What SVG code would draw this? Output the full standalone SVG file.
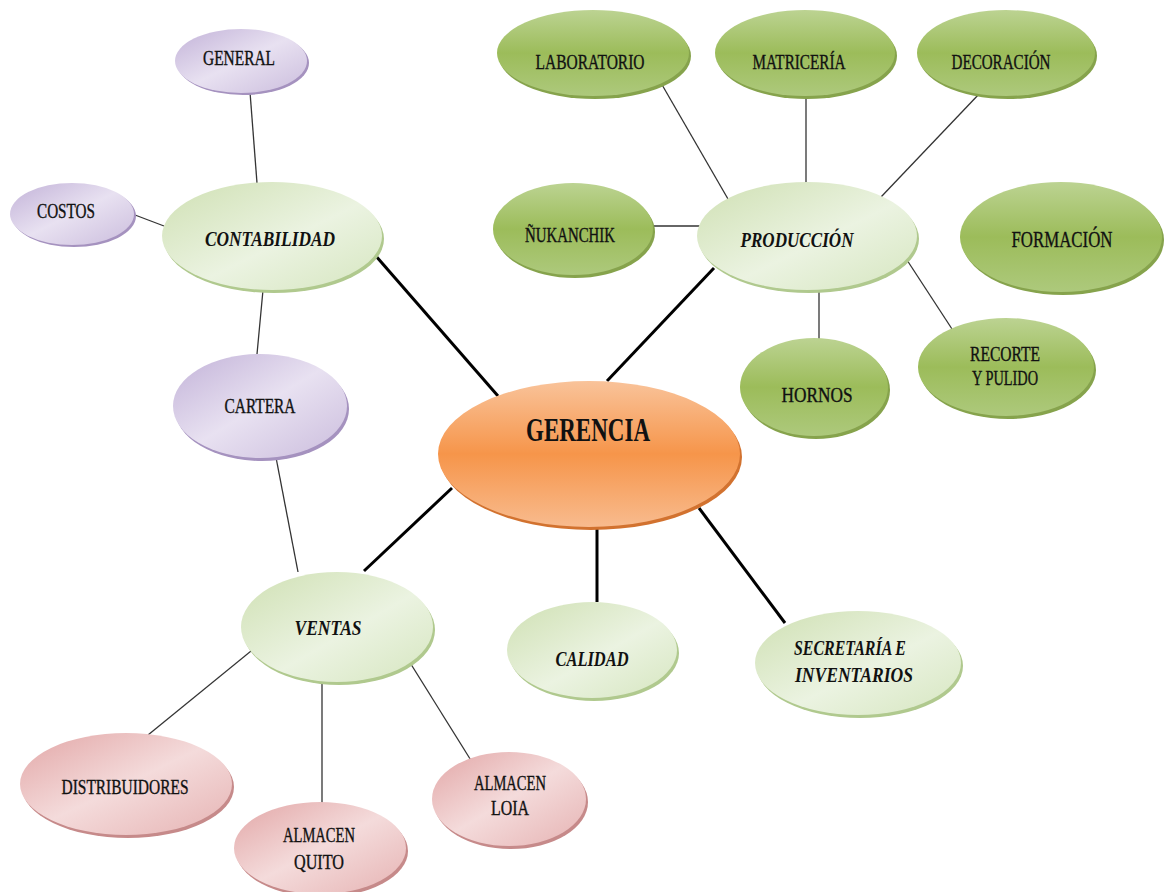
<svg xmlns="http://www.w3.org/2000/svg" width="1165" height="892" viewBox="0 0 1165 892">
  <defs>
    <linearGradient id="gOrange" x1="0" y1="0" x2="0" y2="1">
      <stop offset="0" stop-color="#f9c39a"/>
      <stop offset="0.5" stop-color="#f6954a"/>
      <stop offset="1" stop-color="#f8bb8e"/>
    </linearGradient>
    <linearGradient id="gLight" x1="0" y1="0" x2="1" y2="1">
      <stop offset="0" stop-color="#cfe0b3"/>
      <stop offset="0.55" stop-color="#ebf3e1"/>
      <stop offset="1" stop-color="#d6e6c0"/>
    </linearGradient>
    <linearGradient id="gDark" x1="0" y1="0" x2="0" y2="1">
      <stop offset="0" stop-color="#bcd392"/>
      <stop offset="0.5" stop-color="#9cbc5a"/>
      <stop offset="1" stop-color="#adc97c"/>
    </linearGradient>
    <linearGradient id="gPurple" x1="0" y1="0" x2="1" y2="1">
      <stop offset="0" stop-color="#c2b2d8"/>
      <stop offset="0.5" stop-color="#e8e1f1"/>
      <stop offset="1" stop-color="#cbbddd"/>
    </linearGradient>
    <linearGradient id="gPink" x1="0" y1="0" x2="1" y2="1">
      <stop offset="0" stop-color="#e2a6a6"/>
      <stop offset="0.5" stop-color="#f4dbdb"/>
      <stop offset="1" stop-color="#e6b3b3"/>
    </linearGradient>
  </defs>
  <style>
    text { font-family: "Liberation Serif", "Times New Roman", serif; fill: #111; text-anchor: middle; }
    .lbl { font-size: 20px; stroke: #111; stroke-width: 0.35; }
    .big { font-size: 24px; stroke: #111; stroke-width: 0.35; }
    .main { font-size: 22px; font-weight: bold; font-style: italic; }
    .top { font-size: 34px; font-weight: bold; }
    .thick { stroke: #000; stroke-width: 3; }
    .thin { stroke: #333; stroke-width: 1.3; }
    .sh-orange { fill: #d2722f; }
    .sh-light { fill: #b0c98e; }
    .sh-dark { fill: #86a34c; }
    .sh-purple { fill: #a592bf; }
    .sh-pink { fill: #c68a8a; }
    .orange { fill: url(#gOrange); }
    .light { fill: url(#gLight); }
    .dark { fill: url(#gDark); }
    .purple { fill: url(#gPurple); }
    .pink { fill: url(#gPink); }
  </style>

  <rect width="1165" height="892" fill="#ffffff"/>

  <!-- connectors -->
  <g id="connectors" fill="none">
    <line class="thick" x1="375" y1="255" x2="498" y2="396"/>
    <line class="thick" x1="714" y1="268" x2="607" y2="381"/>
    <line class="thick" x1="452" y1="488" x2="364" y2="571"/>
    <line class="thick" x1="597" y1="524" x2="597" y2="602"/>
    <line class="thick" x1="699" y1="508" x2="785" y2="623"/>
    <line class="thin" x1="250" y1="92" x2="257" y2="183"/>
    <line class="thin" x1="135" y1="215" x2="164" y2="226"/>
    <line class="thin" x1="263" y1="290" x2="257" y2="354"/>
    <line class="thin" x1="274" y1="447" x2="298" y2="572"/>
    <line class="thin" x1="256" y1="647" x2="148" y2="735"/>
    <line class="thin" x1="322" y1="665" x2="322" y2="804"/>
    <line class="thin" x1="404" y1="653" x2="472" y2="762"/>
    <line class="thin" x1="661" y1="83" x2="728" y2="199"/>
    <line class="thin" x1="806" y1="95" x2="806" y2="183"/>
    <line class="thin" x1="980" y1="93" x2="881" y2="197"/>
    <line class="thin" x1="654" y1="226" x2="700" y2="226"/>
    <line class="thin" x1="819" y1="288" x2="819" y2="339"/>
    <line class="thin" x1="905" y1="257" x2="952" y2="329"/>
  </g>

  <!-- central node -->
  <g id="gerencia">
    <ellipse class="sh-orange" cx="591" cy="457" rx="151" ry="73"/>
    <ellipse class="orange" cx="589" cy="454" rx="151" ry="73"/>
    <text class="top" x="588" y="441" textLength="124" lengthAdjust="spacingAndGlyphs">GERENCIA</text>
  </g>

  <!-- first-level areas -->
  <g id="contabilidad">
    <ellipse class="sh-light" cx="274" cy="239" rx="110" ry="54"/>
    <ellipse class="light" cx="272" cy="236" rx="110" ry="54"/>
    <text class="main" x="270" y="246" textLength="130" lengthAdjust="spacingAndGlyphs">CONTABILIDAD</text>
  </g>
  <g id="produccion">
    <ellipse class="sh-light" cx="809" cy="239" rx="110" ry="54"/>
    <ellipse class="light" cx="807" cy="236" rx="110" ry="54"/>
    <text class="main" x="797" y="247" textLength="113" lengthAdjust="spacingAndGlyphs">PRODUCCIÓN</text>
  </g>
  <g id="ventas">
    <ellipse class="sh-light" cx="339" cy="630" rx="96" ry="55"/>
    <ellipse class="light" cx="337" cy="627" rx="96" ry="55"/>
    <text class="main" x="328" y="635" textLength="67" lengthAdjust="spacingAndGlyphs">VENTAS</text>
  </g>
  <g id="calidad">
    <ellipse class="sh-light" cx="594" cy="653" rx="85" ry="48"/>
    <ellipse class="light" cx="592" cy="650" rx="85" ry="48"/>
    <text class="main" x="592" y="666" textLength="73" lengthAdjust="spacingAndGlyphs">CALIDAD</text>
  </g>
  <g id="secretaria">
    <ellipse class="sh-light" cx="860" cy="666" rx="103" ry="52"/>
    <ellipse class="light" cx="858" cy="663" rx="103" ry="52"/>
    <text class="main" x="850" y="655" textLength="112" lengthAdjust="spacingAndGlyphs">SECRETARÍA E</text>
    <text class="main" x="854" y="682" textLength="118" lengthAdjust="spacingAndGlyphs">INVENTARIOS</text>
  </g>

  <!-- accounting sub-units -->
  <g id="general">
    <ellipse class="sh-purple" cx="243" cy="63" rx="66" ry="32"/>
    <ellipse class="purple" cx="241" cy="61" rx="66" ry="32"/>
    <text class="lbl" x="239" y="65" textLength="72" lengthAdjust="spacingAndGlyphs">GENERAL</text>
  </g>
  <g id="costos">
    <ellipse class="sh-purple" cx="74" cy="216" rx="62" ry="31"/>
    <ellipse class="purple" cx="72" cy="214" rx="62" ry="31"/>
    <text class="lbl" x="66" y="218" textLength="58" lengthAdjust="spacingAndGlyphs">COSTOS</text>
  </g>
  <g id="cartera">
    <ellipse class="sh-purple" cx="262" cy="409" rx="87" ry="52"/>
    <ellipse class="purple" cx="260" cy="406" rx="87" ry="52"/>
    <text class="lbl" x="260" y="413" textLength="71" lengthAdjust="spacingAndGlyphs">CARTERA</text>
  </g>

  <!-- production sub-units -->
  <g id="laboratorio">
    <ellipse class="sh-dark" cx="595" cy="56" rx="96" ry="43"/>
    <ellipse class="dark" cx="593" cy="53" rx="96" ry="43"/>
    <text class="lbl" x="590" y="69" textLength="109" lengthAdjust="spacingAndGlyphs">LABORATORIO</text>
  </g>
  <g id="matriceria">
    <ellipse class="sh-dark" cx="807" cy="56" rx="90" ry="43"/>
    <ellipse class="dark" cx="805" cy="53" rx="90" ry="43"/>
    <text class="lbl" x="799" y="69" textLength="93" lengthAdjust="spacingAndGlyphs">MATRICERÍA</text>
  </g>
  <g id="decoracion">
    <ellipse class="sh-dark" cx="1008" cy="56" rx="89" ry="43"/>
    <ellipse class="dark" cx="1006" cy="53" rx="89" ry="43"/>
    <text class="lbl" x="1001" y="69" textLength="99" lengthAdjust="spacingAndGlyphs">DECORACIÓN</text>
  </g>
  <g id="formacion">
    <ellipse class="sh-dark" cx="1063" cy="240" rx="101" ry="55"/>
    <ellipse class="dark" cx="1061" cy="237" rx="101" ry="55"/>
    <text class="big" x="1062" y="247" textLength="101" lengthAdjust="spacingAndGlyphs">FORMACIÓN</text>
  </g>
  <g id="nukanchik">
    <ellipse class="sh-dark" cx="575" cy="232" rx="80" ry="46"/>
    <ellipse class="dark" cx="573" cy="229" rx="80" ry="46"/>
    <text class="lbl" x="570" y="242" textLength="90" lengthAdjust="spacingAndGlyphs">ÑUKANCHIK</text>
  </g>
  <g id="hornos">
    <ellipse class="sh-dark" cx="816" cy="390" rx="74" ry="49"/>
    <ellipse class="dark" cx="814" cy="387" rx="74" ry="49"/>
    <text class="lbl" x="817" y="402" textLength="71" lengthAdjust="spacingAndGlyphs">HORNOS</text>
  </g>
  <g id="recorte">
    <ellipse class="sh-dark" cx="1008" cy="370" rx="88" ry="49"/>
    <ellipse class="dark" cx="1006" cy="367" rx="88" ry="49"/>
    <text class="lbl" x="1005" y="361" textLength="70" lengthAdjust="spacingAndGlyphs">RECORTE</text>
    <text class="lbl" x="1005" y="385" textLength="66" lengthAdjust="spacingAndGlyphs">Y PULIDO</text>
  </g>

  <!-- sales sub-units -->
  <g id="distribuidores">
    <ellipse class="sh-pink" cx="128" cy="787" rx="106" ry="51"/>
    <ellipse class="pink" cx="126" cy="784" rx="106" ry="51"/>
    <text class="lbl" x="125" y="794" textLength="127" lengthAdjust="spacingAndGlyphs">DISTRIBUIDORES</text>
  </g>
  <g id="almacen-quito">
    <ellipse class="sh-pink" cx="322" cy="851" rx="86" ry="46"/>
    <ellipse class="pink" cx="320" cy="848" rx="86" ry="46"/>
    <text class="lbl" x="319" y="842" textLength="72" lengthAdjust="spacingAndGlyphs">ALMACEN</text>
    <text class="lbl" x="319" y="869" textLength="50" lengthAdjust="spacingAndGlyphs">QUITO</text>
  </g>
  <g id="almacen-loia">
    <ellipse class="sh-pink" cx="511" cy="802" rx="77" ry="47"/>
    <ellipse class="pink" cx="509" cy="799" rx="77" ry="47"/>
    <text class="lbl" x="510" y="790" textLength="72" lengthAdjust="spacingAndGlyphs">ALMACEN</text>
    <text class="lbl" x="510" y="815" textLength="38" lengthAdjust="spacingAndGlyphs">LOIA</text>
  </g>
</svg>
